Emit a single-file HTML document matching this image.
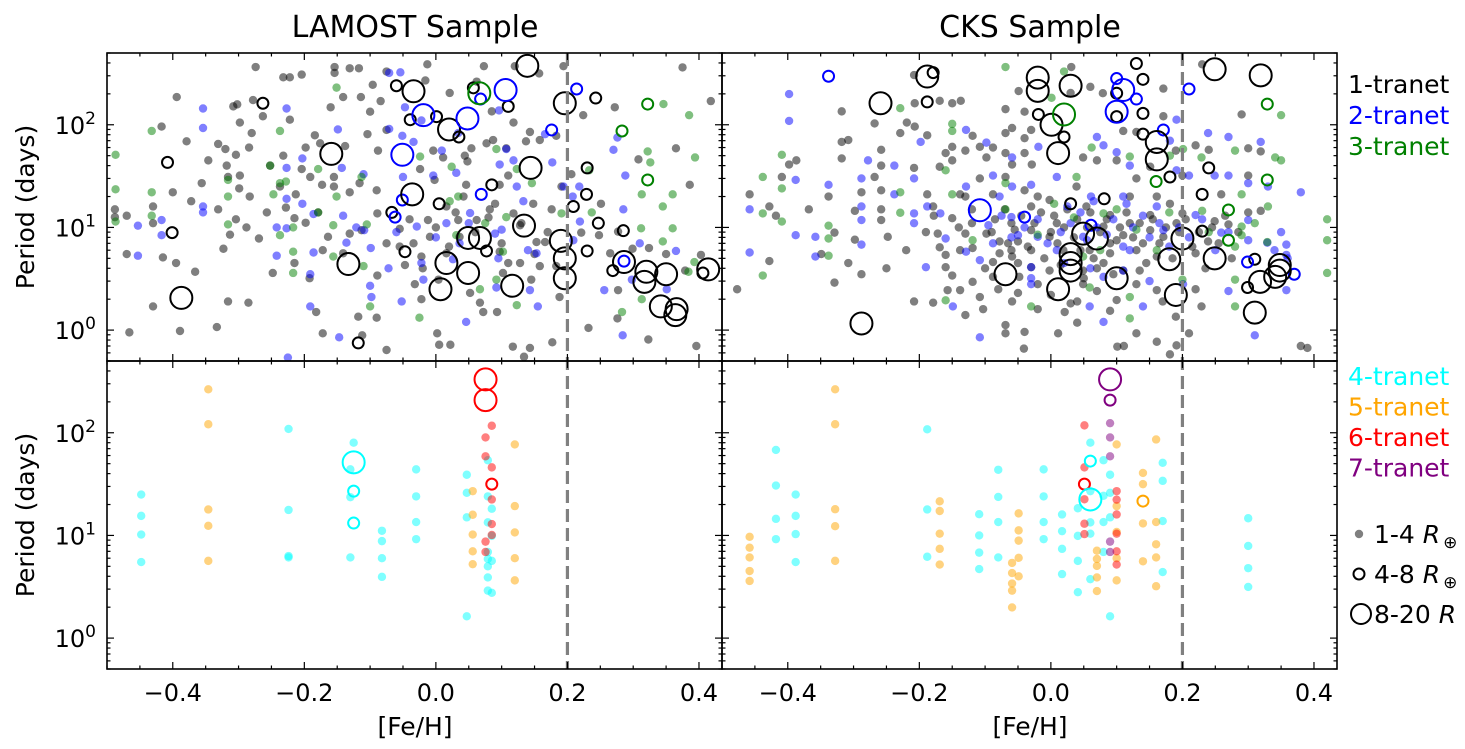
<!DOCTYPE html>
<html><head><meta charset="utf-8"><style>
html,body{margin:0;padding:0;background:#fff;}
svg{display:block;font-family:"DejaVu Sans","Liberation Sans",sans-serif;}
</style></head><body>
<svg id="chart" width="1465" height="749" viewBox="0 0 1465 749" xmlns="http://www.w3.org/2000/svg">
<g id="marks"></g>
<g id="axes"></g>
</svg>
<script>
// ---------- DATA ([Fe/H], period in days) ----------
const lamost1Dots=[[-0.274,365],[-0.154,365],[-0.154,320],[-0.131,355],[-0.117,355],[-0.232,290],[-0.222,290],[-0.204,308],[-0.394,186],[-0.308,151],[-0.302,158],[-0.278,174],[-0.263,121],[-0.222,112],[-0.16,148],[-0.141,186],[-0.114,186],[-0.1,134],[-0.084,170],[-0.096,245],[-0.075,330],[-0.417,96],[-0.379,69],[-0.298,105],[-0.28,83],[-0.346,45],[-0.331,65],[-0.32,58],[-0.304,51],[-0.284,60],[-0.232,50],[-0.104,81],[-0.198,60],[-0.184,79],[-0.176,66],[-0.138,62],[-0.088,56],[-0.075,89],[-0.318,40],[-0.316,31],[-0.298,32],[-0.299,24],[-0.283,20],[-0.252,40],[-0.237,25],[-0.213,21],[-0.204,37],[-0.191,31],[-0.173,26],[-0.155,25],[-0.155,31],[-0.131,22],[-0.116,27],[-0.09,23],[-0.488,15],[-0.488,12.6],[-0.47,13],[-0.43,16],[-0.43,11],[-0.4,22],[-0.372,18],[-0.356,27],[-0.331,15],[-0.304,12],[-0.288,10],[-0.269,7.8],[-0.313,8.5],[-0.257,14],[-0.228,15.6],[-0.215,12.3],[-0.198,11.1],[-0.179,14],[-0.164,8.1],[-0.131,8.7],[-0.113,9.4],[-0.089,13.7],[-0.075,7],[-0.47,5.5],[-0.415,5.1],[-0.395,4.5],[-0.366,3.7],[-0.323,6.2],[-0.248,3.6],[-0.215,4.5],[-0.172,6],[-0.141,5.6],[-0.089,3.4],[-0.43,1.7],[-0.316,1.9],[-0.285,1.85],[-0.192,3.2],[-0.182,1.5],[-0.389,0.98],[-0.466,0.95],[-0.333,1.07],[-0.172,0.93],[-0.118,1.35],[-0.09,1.32],[-0.112,0.89],[-0.075,0.64],
[-0.013,388],[0.073,372],[0.12,372],[0.157,316],[0.194,372],[0.375,362],[-0.016,270],[0.021,204],[0.062,263],[0.418,170],[0.272,148],[0.224,124],[0.085,135],[0.118,105],[0.143,85],[0.137,69],[0.158,71],[0.183,78],[0.087,71],[0.054,59],[0.077,66],[0.044,50],[0.048,44],[0.107,59],[-0.024,37],[-0.004,56],[0.011,48],[0.365,59],[0.308,46],[0.386,26],[0.11,32],[0.046,26],[0.097,26],[-0.002,29],[0.191,25],[0.206,33],[0.148,17],[0.176,15],[0.251,17],[-0.012,11.8],[0.034,11.8],[0.082,15],[0.062,11.8],[0.118,13.7],[0.166,7.2],[0.221,8.9],[0.248,8.4],[0.265,5.6],[0.277,9.1],[0.299,6.2],[0.324,6.3],[0.35,5.5],[0.403,5.4],[0.379,3.8],[-0.034,7],[-0.022,5.2],[0.016,5.6],[0.097,5.8],[0.128,4.5],[0.158,4.2],[0.183,4.2],[-0.047,4.3],[-0.032,2.8],[0.004,3.1],[0.052,2.3],[0.102,3.6],[0.145,3.1],[0.188,2.1],[0.277,2.45],[-0.022,2.0],[0.067,1.85],[0.072,1.5],[0.093,1.5],[0.232,1.05],[0.276,1.3],[0.323,0.81],[0.396,0.7],[0.002,0.93],[0.005,0.72],[0.022,0.72],[0.117,0.69],[0.143,0.67],[0.177,0.76],[0.134,0.55],[0.016,16],[0.042,20],[0.09,17],[0.128,10.5],[0.153,7.2],[-0.009,8.1],[0.036,8.1],[-0.055,9.7],[-0.055,6.5],
[0.0,10],[0.02,6.5],[0.06,9],[0.1,7],[0.13,11],[0.17,9],[0.03,14],[0.11,4.5],[-0.04,12],[-0.02,4],[0.08,12.5],[0.15,5.5]];
const lamost2Dots=[[-0.354,144],[-0.354,93],[-0.227,144],[-0.149,90],[-0.071,320],[-0.071,91],[-0.203,47],[-0.227,38],[-0.143,38],[-0.11,33],[-0.227,19],[-0.203,17],[-0.354,16],[-0.354,14],[-0.417,11.8],[-0.453,10.4],[-0.417,8.4],[-0.453,5.3],[-0.242,10],[-0.227,9.8],[-0.186,13.5],[-0.141,13],[-0.121,10],[-0.109,9.4],[-0.099,6.3],[-0.242,5.3],[-0.186,5.7],[-0.136,7.1],[-0.191,3.5],[-0.072,4],[-0.1,2.7],[-0.098,2.1],[-0.191,1.7],[-0.147,0.85],[-0.225,0.54],
[-0.054,324],[-0.047,148],[-0.022,110],[-0.051,78],[-0.034,68],[0.009,56],[0.034,83],[0.096,138],[0.107,58],[0.118,45],[0.097,41],[0.031,34],[-0.004,32],[-0.05,31],[0.177,43],[0.166,81],[0.123,25],[0.133,18],[0.194,25],[0.218,25],[0.208,20],[0.27,57],[0.276,75],[0.288,32],[0.285,15],[0.31,7],[0.365,5.9],[0.351,2.5],[0.298,3.1],[0.256,2.45],[0.284,0.89],[0.046,1.2],[0.155,1.7],[0.143,2.45],[0.092,2.6],[0.026,4.9],[-0.022,4.5],[-0.052,1.9],[-0.019,3.1],[-0.029,10.2],[0.016,11],[0.052,13.8],[0.09,8.7],[0.095,5],[0.153,5.6],[0.209,7.5],[0.219,11.4],[0.036,7],
[0.0,8],[0.05,11],[0.1,9.5],[-0.06,9],[0.14,6]];
const lamost3Dots=[[-0.487,51],[-0.487,23.5],[-0.487,11.4],[-0.432,87],[-0.432,22],[-0.432,13],[-0.316,29],[-0.316,20],[-0.316,10.7],[-0.237,87],[-0.252,40],[-0.237,27],[-0.247,21],[-0.228,28],[-0.217,10],[-0.237,8.4],[-0.217,5.8],[-0.179,37],[-0.179,14],[-0.151,230],[-0.151,20],[-0.156,10.5],[-0.156,5.2],[-0.113,31],[-0.105,10.7],[-0.11,4.2],[-0.1,1.7],[-0.217,3.6],
[0.346,159],[0.385,124],[0.322,55],[0.326,43],[0.394,48],[0.313,21],[0.345,16],[0.36,21],[0.36,9.8],[0.312,9.8],[0.345,7.3],[0.393,4.6],[0.384,3.7],[0.313,2.0],[0.283,1.5],[-0.025,1.32],[0.123,1.75],[0.092,3.1],[0.067,2.5],[0.102,5.8],[0.031,8.4],[0.075,11],[0.107,12.6],[0.146,27],[0.123,37],[0.092,58],[0.024,39],[0.034,20],[0.237,14],[0.191,13.7],[0.233,36],[-0.024,49],[0.021,18]];
const lamost1Med=[[-0.263,162],[-0.408,43],[-0.401,8.9],[-0.118,0.75],[-0.06,240],[0.057,229],[-0.039,112],[0.001,120],[0.035,76],[0.11,151],[0.243,182],[0.23,38],[0.085,26],[0.005,17],[0.229,21],[0.209,16],[0.247,11],[0.285,9.3],[0.23,5.9],[0.077,5.9],[-0.047,5.8],[-0.067,14],[0.269,3.8],[0.406,3.6]];
const lamost1Big=[[-0.387,2.06],[-0.159,52],[-0.133,4.4],[0.139,375],[-0.034,212],[0.02,90],[0.196,162],[0.144,38],[-0.036,21],[0.134,10.4],[0.049,7.9],[0.067,7.9],[0.19,7.4],[0.196,5],[0.016,4.5],[0.049,3.6],[0.196,3.2],[0.007,2.5],[0.116,2.7],[0.286,4.6],[0.32,3.7],[0.35,3.5],[0.317,2.95],[0.342,1.7],[0.366,1.6],[0.364,1.4],[0.414,3.9]];
const lamost2Med=[[0.214,223],[0.176,89],[0.068,178],[0.069,21],[-0.051,18.5],[-0.062,12.6],[0.286,4.7]];
const lamost2Big=[[-0.019,124],[0.048,115],[0.106,218],[-0.051,51]];
const lamost3Med=[[0.322,159],[0.283,87],[0.322,29]];
const lamost3Big=[[0.066,203]];

const cks1Dots=[[-0.477,2.5],[-0.458,21],[-0.428,16],[-0.418,13],[-0.428,4.7],[-0.409,31],[-0.398,41],[-0.387,45],[-0.368,15],[-0.329,8.9],[-0.349,5.5],[-0.329,2.9],[-0.318,135],[-0.318,68],[-0.308,71],[-0.318,47],[-0.338,20],[-0.308,4.5],[-0.288,3.5],[-0.298,7.6],[-0.298,14.5],[-0.288,22],[-0.268,103],[-0.268,31],[-0.258,57],[-0.258,40],[-0.258,23],[-0.258,15],[-0.258,11.8],[-0.248,8.1],[-0.229,83],[-0.219,105],[-0.207,96],[-0.207,162],[-0.208,305],[-0.188,79],[-0.169,171],[-0.15,162],[-0.137,171],[-0.208,38],[-0.208,1.9],[-0.188,21],[-0.179,16],[-0.179,1.85],[-0.169,39],[-0.16,53],[-0.15,61],[-0.15,45],[-0.13,56],[-0.119,78],[-0.108,61],[-0.098,48],[-0.088,60],[-0.069,53],[-0.069,142],[-0.059,93],[-0.069,83],[-0.049,213],[-0.04,134],[-0.03,89],[-0.04,74],[-0.04,53],[-0.029,41],[-0.059,41],[-0.069,31],[-0.108,30],[-0.138,21],[-0.13,20],[-0.088,21],[-0.178,13],[-0.172,8.7],[-0.169,6.4],[-0.16,5.4],[-0.16,4.1],[-0.15,3.4],[-0.157,2.45],[-0.138,6],[-0.13,8.7],[-0.119,6.3],[-0.119,2.95],[-0.13,1.4],[-0.108,2.1],[-0.103,1.6],[-0.088,4.6],[-0.078,5.6],[-0.069,0.93],[-0.069,1.12],[-0.059,1.9],[-0.048,3.3],[-0.041,0.66],[-0.04,0.96],[-0.02,1.6],[-0.059,5.2],[-0.05,7.3],[-0.03,6],[-0.03,9.4],[-0.03,16],[-0.04,23],[-0.02,20],[-0.12,11],[-0.15,12.3],[-0.138,2.45],[-0.098,8.7],[-0.078,7.3],[-0.06,6],[-0.05,4.5],[-0.088,3.3],[-0.02,2.8],[-0.03,4.1],[-0.06,11],
[0.031,365],[0.06,234],[0.079,203],[0.171,225],[0.23,388],[0.29,126],[0.03,204],[0.11,87],[0.13,85],[0.171,121],[0.22,63],[0.24,57],[0.3,59],[0.319,55],[0.3,32],[0.259,21],[0.3,14],[0.319,14.5],[0.249,11.5],[0.27,10.7],[0.2,32],[0.2,13.7],[0.19,56],[0.22,5.6],[0.229,1.7],[0.161,20],[0.151,39],[0.13,30],[0.1,45],[0.07,45],[0.049,48],[0.039,25],[0.12,20],[0.09,13.2],[0.151,13.2],[0.181,17],[0.11,8.4],[0.14,7],[0.09,5.6],[0.07,4],[0.049,2.8],[0.03,1.82],[0.021,1.5],[0.04,1.18],[0.011,0.93],[0.09,1.54],[0.13,0.93],[0.161,0.77],[0.101,0.69],[0.111,0.7],[0.181,0.58],[0.191,0.71],[0.21,0.93],[0.19,1.35],[0.161,2.45],[0.1,1.96],[0.38,0.7],[0.39,0.67],[0.239,7.3],[-0.002,18.5],[0.009,11],[-0.002,8.1],[0.019,6],[0.054,16],[0.059,6],[0.08,10.2],[0.1,7.5],[0.12,11],[0.13,6],[0.151,9.4],[0.161,5.2],[0.171,8.1],[0.191,11],[0.08,4.5],[0.11,3.8],[0.049,3.8],[-0.002,3.8],[0.135,3.8],
[-0.09,9],[-0.085,12],[-0.07,15],[-0.065,7],[-0.055,9.5],[-0.045,13],[-0.035,6.5],[-0.025,11],[-0.015,14],[-0.01,5],[0.0,9],[0.005,13],[0.01,7],[0.015,4.3],[0.02,10],[0.025,15],[0.035,8],[0.04,12],[0.045,6],[0.05,3.2],[0.055,10],[0.06,14],[0.065,5],[0.075,9],[0.085,12],[0.09,7],[0.095,3.5],[0.105,10],[0.115,14],[0.125,8],[0.135,11],[0.145,4.5],[0.155,12],[0.165,7],[0.175,10],[0.185,5],[0.195,9],[0.205,12],[0.215,6.5],[0.225,9],[0.235,4],[0.245,10],[0.255,7],[0.265,13],[0.275,5],[0.285,9],[-0.1,4],[-0.08,2.5],[-0.05,2.3],[0.0,2.2],[0.04,1.9],[0.07,2.4],[0.13,2.8],[0.17,1.9],[0.22,2.5],[-0.12,15],[-0.14,10],[-0.19,9],[-0.22,6],[-0.25,4]];
const cks2Dots=[[-0.398,199],[-0.398,109],[-0.388,29],[-0.458,15],[-0.458,5.7],[-0.388,8.4],[-0.358,8.1],[-0.358,5.2],[-0.338,26],[-0.288,30],[-0.288,16],[-0.288,11.8],[-0.288,6.8],[-0.278,45],[-0.238,40],[-0.238,21],[-0.208,30],[-0.208,13.7],[-0.208,11],[-0.198,68],[-0.188,16],[-0.19,4.1],[-0.168,13.7],[-0.129,89],[-0.129,25],[-0.129,5.8],[-0.149,1.7],[-0.108,0.85],[-0.098,67],[-0.088,32],[-0.078,20],[-0.059,48],[-0.059,25],[-0.03,26],[-0.019,61],[-0.03,4.1],[-0.03,2.8],[-0.088,7],[-0.108,4.8],[-0.16,7.8],[-0.05,8.4],[-0.02,8.1],[-0.06,12.6],
[0.191,112],[0.239,83],[0.27,76],[0.319,68],[0.3,27],[0.33,25],[0.38,22],[0.249,32],[0.27,32],[0.21,32],[0.22,13.2],[0.259,8.9],[0.3,11.8],[0.329,7.1],[0.358,6.8],[0.358,5.4],[0.358,2.45],[0.27,2.4],[0.31,0.89],[0.08,63],[0.07,76],[0.1,54],[0.12,40],[0.181,70],[0.191,36],[0.11,20],[0.061,20],[0.009,31],[0.161,16],[0.171,9.4],[0.12,6],[0.08,3.3],[0.14,1.7],[0.08,1.2],[0.059,1.7],[0.009,6],[0.201,2.8],[0.049,8.1],
[-0.095,10.5],[-0.075,13],[-0.06,8],[-0.04,10],[-0.02,12],[-0.005,7],[0.015,9],[0.03,11],[0.045,14],[0.055,7.5],[0.07,10],[0.085,8.5],[0.095,12],[0.11,6.5],[0.125,10],[0.14,13],[0.15,8],[0.165,11],[0.18,6.5],[0.195,10],[0.21,8],[0.23,12],[0.25,6],[0.27,9],[0.3,7.5],[0.34,6],[0.35,9],[0.36,5],[0.025,16],[0.065,18],[0.115,17],[0.02,4.5],[0.06,4],[0.11,3.8],[-0.03,3.2],[0.15,3]];
const cks3Dots=[[-0.438,31],[-0.438,13.7],[-0.438,3.4],[-0.409,51],[-0.409,24],[-0.409,11.4],[-0.338,10.4],[-0.338,7.8],[-0.338,5.3],[-0.229,22],[-0.229,13.9],[-0.229,145],[-0.15,102],[-0.15,87],[-0.16,36],[-0.15,21],[-0.16,1.95],[-0.069,365],[-0.069,27],[-0.069,15],[-0.03,1.7],[-0.119,7.5],
[0.02,330],[0.001,183],[0.062,60],[0.12,49],[0.181,50],[0.201,58],[0.229,48],[0.28,56],[0.341,48],[0.35,45],[0.35,124],[0.29,21],[0.33,16],[0.23,14.5],[0.29,10.2],[0.29,8.4],[0.28,6.5],[0.329,7.2],[0.42,12],[0.42,7.5],[0.42,3.6],[0.28,3.1],[0.28,1.7],[0.2,3.1],[0.12,2.1],[0.12,1.3],[0.059,2.6],[0.039,31],[0.08,13.7],[0.049,5.2],[0.161,6],
[-0.02,8.5],[0.035,12.5],[0.075,6],[0.13,9.5],[0.18,14],[0.24,9],[0.31,11],[0.005,17],[0.1,15]];
const cks1Med=[[-0.179,322],[-0.188,167],[-0.019,126],[0.13,395],[0.14,277],[0.1,203],[0.1,120],[0.14,129],[0.14,81],[0.02,76],[0.181,31],[0.24,38],[0.23,21],[0.081,19],[0.03,17],[0.23,9.2],[0.31,4.9],[0.299,2.6]];
const cks1Big=[[-0.259,162],[-0.188,295],[-0.288,1.16],[-0.069,3.5],[-0.02,288],[-0.02,214],[0.001,100],[0.011,53],[0.011,2.5],[0.03,240],[0.161,68],[0.161,46],[0.049,8.7],[0.07,7.8],[0.03,5.5],[0.03,4.5],[0.03,3.8],[0.1,3.2],[0.18,4.9],[0.19,2.2],[0.2,7.8],[0.249,5],[0.249,347],[0.319,303],[0.318,2.95],[0.341,3.3],[0.348,4.3],[0.348,3.8],[0.31,1.48]];
const cks2Med=[[-0.338,297],[-0.04,12.6],[0.1,282],[0.13,178],[0.171,89],[0.21,223],[0.061,10.5],[0.299,4.6],[0.37,3.5]];
const cks2Big=[[-0.108,14.7],[0.11,218],[0.1,134]];
const cks3Med=[[0.329,159],[0.16,28],[0.329,29],[0.27,14.8],[0.27,7.5]];
const cks3Big=[[0.02,126]];

// bottom panels
const lamost4Dots=[[-0.448,25],[-0.448,15.5],[-0.448,10.2],[-0.448,5.5],[-0.224,109],[-0.224,17.7],[-0.224,6.3],[-0.224,6.1],[-0.125,80],[-0.13,44],[-0.13,23.6],[-0.13,6.1],[-0.082,11.1],[-0.082,8.8],[-0.082,6.0],[-0.082,3.95],[-0.03,44],[-0.03,24],[-0.03,13.5],[-0.03,9.2],[0.047,39],[0.047,26],[0.047,15],[0.047,1.63],[0.079,54],[0.079,24],[0.079,13.4],[0.079,6.9],[0.079,5.9],[0.079,5.0],[0.079,3.9],[0.079,2.9],[0.085,18.2],[0.085,9.9],[0.085,5.65],[0.085,2.76]];
const lamost5Dots=[[-0.346,265],[-0.346,121],[-0.346,17.9],[-0.346,12.4],[-0.346,5.65],[0.12,77],[0.12,19.3],[0.12,10.7],[0.12,6.0],[0.12,3.65],[0.056,27],[0.056,15.9],[0.056,10.2],[0.056,7.0],[0.056,5.25]];
const lamost6Dots=[[0.085,117],[0.0755,90],[0.0755,59],[0.085,46],[0.085,22.4],[0.085,12.9],[0.085,10.1],[0.0755,8.7],[0.0755,6.9]];
const lamost4Med=[[-0.125,27],[-0.125,13.2]];
const lamost4Big=[[-0.125,51.5]];
const lamost6Med=[[0.085,31.6]];
const lamost6Big=[[0.0755,331],[0.0755,208]];

const cks4Dots=[[-0.418,68],[-0.418,30.6],[-0.418,14.5],[-0.418,9.2],[-0.388,25],[-0.388,15.5],[-0.388,10.3],[-0.388,5.5],[-0.188,108],[-0.188,17.9],[-0.188,6.2],[-0.109,16.1],[-0.109,10.0],[-0.109,6.8],[-0.109,4.7],[-0.08,43.6],[-0.08,23.7],[-0.08,13.5],[-0.08,6.1],[-0.011,44],[-0.011,24],[-0.011,13.5],[-0.011,9.2],[0.017,16],[0.017,11],[0.017,7.4],[0.017,4.2],[0.041,18.4],[0.041,9.9],[0.041,5.65],[0.041,2.8],[0.06,80],[0.06,27],[0.06,13.4],[0.06,10.4],[0.06,3.75],[0.08,54],[0.08,24.3],[0.08,13.5],[0.08,6.9],[0.09,39],[0.09,26],[0.09,15],[0.09,1.63],[0.17,51],[0.17,34],[0.17,13.8],[0.17,4.4],[0.3,14.7],[0.3,7.9],[0.3,4.8],[0.3,3.15]];
const cks5Dots=[[-0.458,9.7],[-0.458,7.6],[-0.458,6.1],[-0.458,4.5],[-0.458,3.6],[-0.328,265],[-0.328,121],[-0.328,18],[-0.328,12.3],[-0.328,5.65],[-0.169,21.5],[-0.169,17.3],[-0.169,10.4],[-0.169,7.4],[-0.169,5.2],[-0.049,16.4],[-0.049,11.2],[-0.049,8.9],[-0.049,6.05],[-0.049,4.0],[-0.059,5.4],[-0.059,4.3],[-0.059,3.4],[-0.059,2.9],[-0.059,1.99],[0.1,77],[0.1,19.3],[0.1,10.8],[0.1,6.0],[0.1,3.65],[0.07,7.1],[0.07,5.9],[0.07,5.05],[0.07,3.9],[0.07,2.87],[0.14,40.6],[0.14,31.6],[0.14,13.1],[0.14,5.6],[0.16,86],[0.16,13.5],[0.16,8.2],[0.16,6.1],[0.16,3.2]];
const cks6Dots=[[0.051,118],[0.051,46],[0.051,22.5],[0.051,13],[0.051,10.3],[0.1,27],[0.1,22.3],[0.1,16],[0.1,10.4],[0.1,7],[0.1,5.2]];
const cks7Dots=[[0.09,124],[0.09,90],[0.09,59],[0.09,8.7],[0.09,6.9]];
const cks4Med=[[0.06,53]];
const cks4Big=[[0.06,22.4]];
const cks5Med=[[0.14,21.6]];
const cks6Med=[[0.051,31.6]];
const cks7Med=[[0.09,208]];
const cks7Big=[[0.09,331]];

const xTickValues=[-0.4,-0.2,0.0,0.2,0.4];
const xTickLabels=["\u22120.4","\u22120.2","0.0","0.2","0.4"];
const yTickExps=[0,1,2];
const legendTop=["1-tranet","2-tranet","3-tranet"];
const legendBottom=["4-tranet","5-tranet","6-tranet","7-tranet"];
const dividerFeH=0.2;

// ---------- LAYOUT ----------
const NS="http://www.w3.org/2000/svg";
const XMIN=-0.5,XMAX=0.435,PX0=[107,722],PW=615;
const ROWTOP=[53,361],PH=308,LOGMIN=Math.log10(0.5),LOGMAX=Math.log10(500);
function xs(f,c){return PX0[c]+(f-XMIN)/(XMAX-XMIN)*PW;}
function ys(p,r){return ROWTOP[r]+(LOGMAX-Math.log10(p))/(LOGMAX-LOGMIN)*PH;}
const marks=document.getElementById('marks');
const axes=document.getElementById('axes');
function mk(tag,parent,attrs){const e=document.createElementNS(NS,tag);for(const k in attrs)e.setAttribute(k,attrs[k]);parent.appendChild(e);return e;}

const COL={1:"#000000",2:"#0000ff",3:"#008000",4:"#00ffff",5:"#ffa500",6:"#ff0000",7:"#800080"};
function drawSeries(arr,c,r,n,kind){
  const g=mk('g',marks,{});
  
  
  arr.forEach(function(d){
    let e;
    if(kind==='dot'){e=mk('circle',g,{cx:xs(d[0],c),cy:ys(d[1],r),r:4.2,fill:COL[n],'fill-opacity':0.5});}
    else{e=mk('circle',g,{cx:xs(d[0],c),cy:ys(d[1],r),r:kind==='med'?5.5:11,fill:'none',stroke:COL[n],'stroke-width':2});}
    
    
  });
}
drawSeries(lamost1Dots,0,0,1,'dot');drawSeries(lamost2Dots,0,0,2,'dot');drawSeries(lamost3Dots,0,0,3,'dot');
drawSeries(lamost1Med,0,0,1,'med');drawSeries(lamost2Med,0,0,2,'med');drawSeries(lamost3Med,0,0,3,'med');
drawSeries(lamost1Big,0,0,1,'big');drawSeries(lamost2Big,0,0,2,'big');drawSeries(lamost3Big,0,0,3,'big');
drawSeries(cks1Dots,1,0,1,'dot');drawSeries(cks2Dots,1,0,2,'dot');drawSeries(cks3Dots,1,0,3,'dot');
drawSeries(cks1Med,1,0,1,'med');drawSeries(cks2Med,1,0,2,'med');drawSeries(cks3Med,1,0,3,'med');
drawSeries(cks1Big,1,0,1,'big');drawSeries(cks2Big,1,0,2,'big');drawSeries(cks3Big,1,0,3,'big');
drawSeries(lamost4Dots,0,1,4,'dot');drawSeries(lamost5Dots,0,1,5,'dot');drawSeries(lamost6Dots,0,1,6,'dot');
drawSeries(lamost4Med,0,1,4,'med');drawSeries(lamost6Med,0,1,6,'med');
drawSeries(lamost4Big,0,1,4,'big');drawSeries(lamost6Big,0,1,6,'big');
drawSeries(cks4Dots,1,1,4,'dot');drawSeries(cks5Dots,1,1,5,'dot');drawSeries(cks6Dots,1,1,6,'dot');drawSeries(cks7Dots,1,1,7,'dot');
drawSeries(cks4Med,1,1,4,'med');drawSeries(cks5Med,1,1,5,'med');drawSeries(cks6Med,1,1,6,'med');drawSeries(cks7Med,1,1,7,'med');
drawSeries(cks4Big,1,1,4,'big');drawSeries(cks7Big,1,1,7,'big');

// dashed dividers
[0,1].forEach(function(c){
  const l=mk('line',marks,{x1:xs(dividerFeH,c),x2:xs(dividerFeH,c),y1:ROWTOP[0],y2:ROWTOP[1]+PH,stroke:'#808080','stroke-width':3.2,'stroke-dasharray':'13,6'});
  
  
});

// axes frames and ticks
function line(x1,y1,x2,y2,w){return mk('line',axes,{x1:x1,y1:y1,x2:x2,y2:y2,stroke:'#000','stroke-width':w});}
for(let c=0;c<2;c++)for(let r=0;r<2;r++){
  const x0=PX0[c],y0=ROWTOP[r];
  const fr=mk('rect',axes,{x:x0,y:y0,width:PW,height:PH,fill:'none',stroke:'#000','stroke-width':1.6});
  
  
  for(let k=-10;k<=8;k++){const f=k*0.05;if(f<XMIN||f>XMAX)continue;const maj=Math.abs(Math.round(k)%4)===0;const L=maj?7:3.5;const x=xs(f,c);
    line(x,y0,x,y0+L,1.2);line(x,y0+PH,x,y0+PH-L,1.2);}
  for(let e=-1;e<=2;e++)for(let m=1;m<=9;m++){const p=m*Math.pow(10,e);if(p<0.5||p>500)continue;const y=ys(p,r);const L=m===1?7:3.5;
    line(x0,y,x0+L,y,1.2);line(x0+PW,y,x0+PW-L,y,1.2);}
  if(c===0){yTickExps.forEach(function(e){const t=mk('text',axes,{x:96,y:ys(Math.pow(10,e),r)+9,'text-anchor':'end','font-size':24,fill:'#000'});
    
    t.textContent='10';const s=mk('tspan',t,{dy:-10,'font-size':17});s.textContent=String(e);});}
  if(r===1){xTickValues.forEach(function(v,i){const t=mk('text',axes,{x:xs(v,c),y:701,'text-anchor':'middle','font-size':24,fill:'#000'});
    t.textContent=xTickLabels[i];});}
}
function txt(s,x,y,size,color,name,anchor){const t=mk('text',axes,{x:x,y:y,'font-size':size,fill:color,'text-anchor':anchor||'start'});t.textContent=s;return t;}
txt('LAMOST Sample',415,37,30,'#000','lamost-title','middle');
txt('CKS Sample',1030,37,30,'#000','cks-title','middle');
txt('[Fe/H]',415,735,25,'#000','x-axis-title-lamost','middle');
txt('[Fe/H]',1030,735,25,'#000','x-axis-title-cks','middle');
[207,515].forEach(function(cy,i){const t=txt('Period (days)',0,0,25,'#000','y-axis-title','middle');t.setAttribute('transform','translate(34,'+cy+') rotate(-90)');});
const topCols=["#000000","#0000ff","#008000"];
legendTop.forEach(function(s,i){txt(s,1348,93+i*31,25,topCols[i],'legend-entry-'+s);});
const botCols=["#00ffff","#ffa500","#ff0000","#800080"];
legendBottom.forEach(function(s,i){txt(s,1348,385+i*30.5,25,botCols[i],'legend-entry-'+s);});
// size legend
const sl=[[543,'1-4 ','dot'],[583,'4-8 ','med'],[623,'8-20 ','big']];
sl.forEach(function(d){
  const y=d[0]-9;let m;
  if(d[2]==='dot')m=mk('circle',axes,{cx:1359,cy:y,r:4.2,fill:'#000','fill-opacity':0.5});
  else if(d[2]==='med')m=mk('circle',axes,{cx:1359,cy:y,r:5.5,fill:'none',stroke:'#000','stroke-width':2});
  else m=mk('circle',axes,{cx:1361,cy:y,r:10,fill:'none',stroke:'#000','stroke-width':2});
  
  const t=txt(d[1],1374,d[0],25,'#000','size-legend-entry');
  const it=mk('tspan',t,{'font-style':'italic'});it.textContent='R';
  if(d[2]!=='big'){const sub=mk('tspan',t,{dy:5,'font-size':17,dx:3});sub.textContent='\u2295';}
});
</script>
</body></html>
